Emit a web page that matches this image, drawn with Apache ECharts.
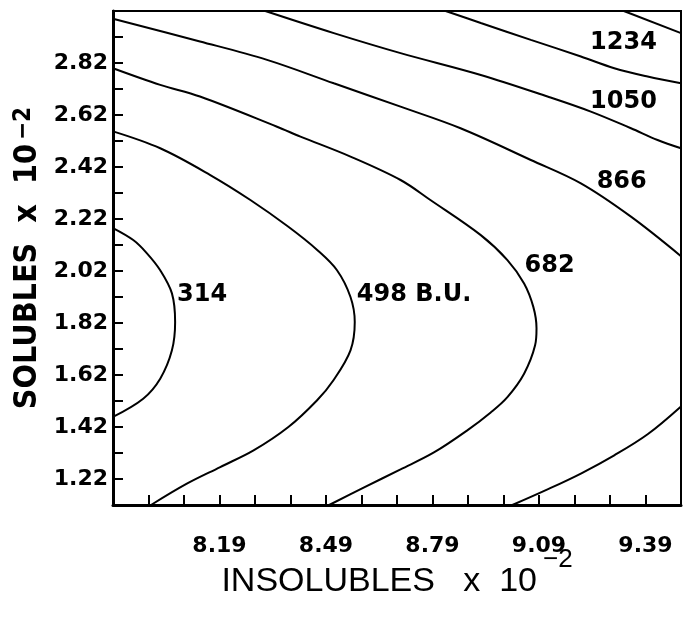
<!DOCTYPE html>
<html>
<head>
<meta charset="utf-8">
<title>Solubles vs insolubles</title>
<style>
    html, body { margin: 0; padding: 0; background: #fff; }
    #Dimg { width: 683px; height: 620px; }
</style>
</head>
<body>
<div id="Dimg"></div>
<script src="https://cdn.jsdelivr.net/npm/echarts/dist/echarts.min.js"></script>
<script type="text/javascript">
    // tick labels shown on the axes (other ticks have no label)
    var xTickLabels = ['8.19', '8.49', '8.79', '9.09', '9.39'];
    var yTickLabels = ['1.22', '1.42', '1.62', '1.82', '2.02', '2.22', '2.42', '2.62', '2.82'];

    // contour lines (insolubles, solubles)
    var c314X = [7.89, 7.947, 7.985, 8.023, 8.056, 8.065, 8.056, 8.023, 7.975, 7.89];
    var c314Y = [2.185, 2.139, 2.089, 2.023, 1.934, 1.824, 1.715, 1.606, 1.529, 1.459];

    var c498X = [7.89, 8.023, 8.164, 8.277, 8.384, 8.466, 8.521, 8.559, 8.571, 8.559, 8.511, 8.465, 8.384, 8.286, 8.192, 8.098, 7.997];
    var c498Y = [2.557, 2.492, 2.389, 2.293, 2.190, 2.100, 2.023, 1.920, 1.824, 1.715, 1.600, 1.523, 1.420, 1.330, 1.266, 1.202, 1.12];

    var c682X = [7.89, 8.023, 8.135, 8.352, 8.418, 8.559, 8.700, 8.784, 8.926, 9.001, 9.048, 9.074, 9.083, 9.079, 9.048, 9.001, 8.954, 8.888, 8.794, 8.700, 8.596, 8.499];
    var c682Y = [2.800, 2.736, 2.691, 2.575, 2.537, 2.460, 2.370, 2.293, 2.158, 2.062, 1.972, 1.882, 1.800, 1.734, 1.625, 1.535, 1.476, 1.407, 1.322, 1.257, 1.187, 1.12];

    var c866TopX = [7.89, 8.135, 8.324, 8.512, 8.700, 8.869, 9.067, 9.208, 9.349, 9.49];
    var c866TopY = [2.990, 2.903, 2.832, 2.742, 2.652, 2.569, 2.447, 2.357, 2.229, 2.077];
    var c866LowX = [9.49, 9.396, 9.302, 9.208, 9.114, 9.015];
    var c866LowY = [1.499, 1.392, 1.311, 1.241, 1.180, 1.12];

    var c1050X = [8.319, 8.512, 8.700, 8.926, 9.114, 9.236, 9.349, 9.424, 9.49];
    var c1050Y = [3.02, 2.935, 2.858, 2.774, 2.691, 2.633, 2.569, 2.524, 2.492];

    var c1234X = [8.827, 8.926, 9.067, 9.208, 9.302, 9.396, 9.49];
    var c1234Y = [3.02, 2.974, 2.909, 2.845, 2.800, 2.768, 2.742];

    var cTopX = [9.329, 9.49];
    var cTopY = [3.02, 2.935];

    // contour labels
    var labelText = ['314', '498 B.U.', '682', '866', '1050', '1234'];
    var labelX = [8.141, 8.738, 9.120, 9.323, 9.328, 9.328];
    var labelY = [1.927, 1.927, 2.039, 2.362, 2.669, 2.898];

    var zip = function(xs, ys){
        return xs.map(function(x, i){ return [x, ys[i]]; });
    };

    var contour = function(xs, ys){
        return {
            type: 'line',
            data: zip(xs, ys),
            showSymbol: false,
            smooth: 0.35,
            silent: true,
            clip: true,
            lineStyle: { color: '#000', width: 2 }
        };
    };

    var labelFont = '"DejaVu Sans", sans-serif';
    var titleFont = '"Liberation Sans", sans-serif';
    var narrowFont = '"DejaVu Sans Condensed", "DejaVu Sans", sans-serif';

    var chart_option = {
        animation: false,
        backgroundColor: '#fff',
        grid: {
            left: 113,
            right: 2,
            top: 11,
            bottom: 115,
            outerBoundsMode: 'none',
            containLabel: false,
            show: true,
            borderColor: '#000',
            borderWidth: 2
        },
        xAxis: {
            type: 'value',
            min: 7.89,
            max: 9.49,
            interval: 0.1,
            splitLine: { show: false },
            axisLine: { show: true, lineStyle: { color: '#000', width: 3 } },
            axisTick: { show: true, inside: true, length: 10, lineStyle: { color: '#000', width: 2 } },
            axisLabel: {
                margin: 30,
                color: '#000',
                fontFamily: labelFont,
                fontWeight: 'bold',
                fontSize: 22,
                showMinLabel: true,
                showMaxLabel: true,
                formatter: function(v){
                    var s = v.toFixed(2);
                    return xTickLabels.indexOf(s) >= 0 ? s : '';
                }
            },
            // superscript: the big line box pushes the main text down, "-2" stays on top
            name: '{t|INSOLUBLES   x  10}{s|−2}',
            nameLocation: 'middle',
            nameMoveOverlap: false,
            nameGap: 42,
            nameTextStyle: {
                rich: {
                    t: { fontFamily: titleFont, fontSize: 34, lineHeight: 52, color: '#000', verticalAlign: 'bottom' },
                    s: { fontFamily: titleFont, fontSize: 26, lineHeight: 26, color: '#000', verticalAlign: 'top', padding: [0, 0, 0, 6] }
                }
            }
        },
        yAxis: {
            type: 'value',
            min: 1.12,
            max: 3.02,
            interval: 0.1,
            splitLine: { show: false },
            axisLine: { show: true, lineStyle: { color: '#000', width: 3 } },
            axisTick: { show: true, inside: true, length: 10, lineStyle: { color: '#000', width: 2 } },
            axisLabel: {
                margin: 5,
                color: '#000',
                fontFamily: labelFont,
                fontWeight: 'bold',
                fontSize: 22,
                showMinLabel: true,
                showMaxLabel: true,
                formatter: function(v){
                    var s = v.toFixed(2);
                    return yTickLabels.indexOf(s) >= 0 ? s : '';
                }
            },
            name: '{t|SOLUBLES  x  10}{s|−2}',
            nameLocation: 'middle',
            nameMoveOverlap: false,
            nameGap: 69,
            nameTextStyle: {
                rich: {
                    t: { fontFamily: narrowFont, fontWeight: 'bold', fontSize: 32, lineHeight: 32, color: '#000', verticalAlign: 'bottom' },
                    s: { fontFamily: narrowFont, fontWeight: 'bold', fontSize: 24, lineHeight: 24, color: '#000', verticalAlign: 'top', padding: [0, 0, 38, 4] }
                }
            }
        },
        series: [
            contour(c314X, c314Y),
            contour(c498X, c498Y),
            contour(c682X, c682Y),
            contour(c866TopX, c866TopY),
            contour(c866LowX, c866LowY),
            contour(c1050X, c1050Y),
            contour(c1234X, c1234Y),
            contour(cTopX, cTopY),
            {
                type: 'scatter',
                symbolSize: 0,
                silent: true,
                itemStyle: { opacity: 1 },
                data: labelText.map(function(t, i){ return { value: [labelX[i], labelY[i]], name: t }; }),
                label: {
                    show: true,
                    position: 'inside',
                    formatter: '{b}',
                    color: '#000',
                    opacity: 1,
                    fontFamily: labelFont,
                    fontWeight: 'bold',
                    fontSize: 24
                }
            }
        ]
    };

    var myChart = echarts.init(document.getElementById('Dimg'), null, { renderer: 'canvas' });
    myChart.setOption(chart_option);
</script>
</body>
</html>
